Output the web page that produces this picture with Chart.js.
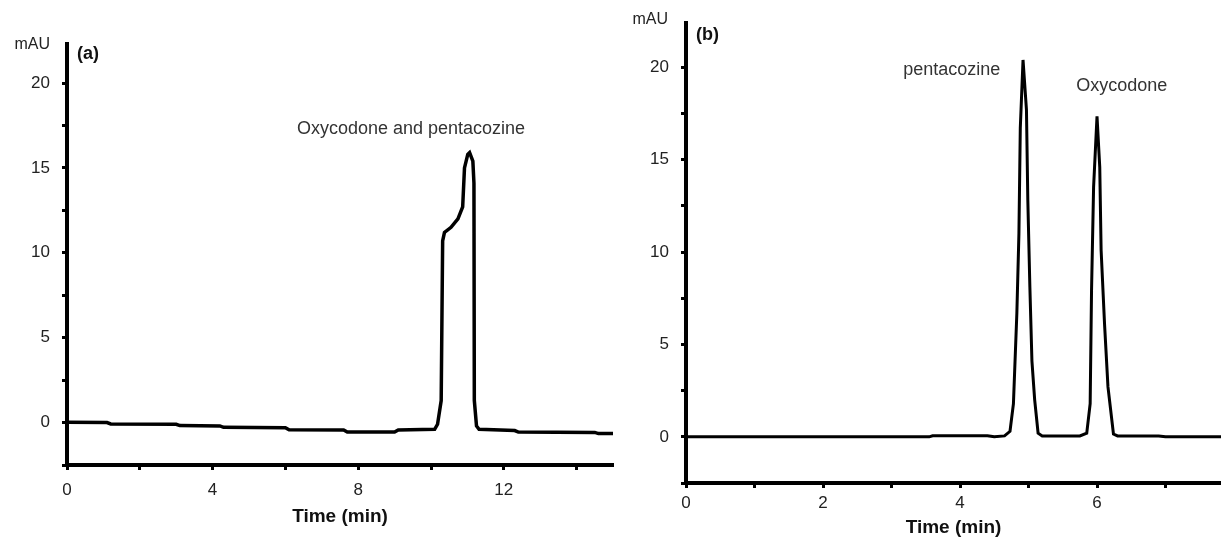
<!DOCTYPE html>
<html>
<head>
<meta charset="utf-8">
<script src="https://cdn.jsdelivr.net/npm/chart.js@4.4.1/dist/chart.umd.min.js"></script>
<style>
  html, body { margin: 0; padding: 0; background: #fff; }
  #wrap { position: relative; width: 1221px; height: 540px; overflow: hidden; }
  canvas { position: absolute; top: 0; }
  #chartA { left: 0; }
  #chartB { left: 620px; }
</style>
</head>
<body>
<div id="wrap">
  <canvas id="chartA" width="620" height="540"></canvas>
  <canvas id="chartB" width="601" height="540"></canvas>
</div>
<script>
// ── Data ─────────────────────────────────────────────────────────────────────
// (a) co-eluting peak
const timeA   = [0, 1.1, 1.2, 3.0, 3.1, 4.2, 4.3, 6.0, 6.1, 7.6, 7.7, 9.0, 9.1, 10.1, 10.18, 10.28, 10.32, 10.37, 10.55, 10.74, 10.87, 10.92, 11.01, 11.06, 11.15, 11.18, 11.19, 11.25, 11.32, 12.3, 12.4, 14.5, 14.6, 15];
const signalA = [0.02, 0, -0.08, -0.1, -0.18, -0.2, -0.28, -0.3, -0.42, -0.44, -0.56, -0.56, -0.44, -0.4, -0.1, 1.3, 10.7, 11.2, 11.5, 12.0, 12.7, 15.0, 15.8, 15.9, 15.4, 14.1, 1.3, -0.2, -0.4, -0.47, -0.56, -0.58, -0.65, -0.65];

// (b) resolved peaks
const timeB   = [0, 3.55, 3.6, 4.4, 4.5, 4.65, 4.73, 4.78, 4.83, 4.86, 4.88, 4.92, 4.97, 4.99, 5.02, 5.05, 5.09, 5.14, 5.2, 5.75, 5.85, 5.9, 5.92, 5.95, 6.0, 6.04, 6.06, 6.11, 6.16, 6.24, 6.3, 6.9, 7.0, 7.81];
const signalB = [0, 0, 0.06, 0.06, 0, 0.05, 0.3, 1.8, 6.7, 11.0, 16.7, 20.4, 17.7, 12.8, 8.1, 4.1, 2.0, 0.2, 0.05, 0.05, 0.2, 1.8, 7.9, 13.5, 17.35, 14.6, 10.1, 6.1, 2.7, 0.15, 0.05, 0.05, 0, 0];

// peak labels: text, time, mAU
const peakLabelsA = [['Oxycodone and pentacozine', 9.45, 17.3]];
const peakLabelsB = [['pentacozine', 3.88, 19.86], ['Oxycodone', 6.36, 18.99]];

const FONT = "'Liberation Sans', Arial, sans-serif";
const INK  = '#222';

// draws "mAU", panel letter and peak names
const textPlugin = {
    id: 'panelText',
    afterDraw(chart, args, opts) {
        const { ctx, chartArea: ca, scales: { x, y } } = chart;
        ctx.save();
        ctx.fillStyle = INK;
        ctx.textBaseline = 'middle';

        ctx.font = `16px ${FONT}`;
        ctx.textAlign = 'right';
        ctx.fillText('mAU', ca.left - opts.unitDx, ca.top + opts.unitDy);

        ctx.font = `bold 18px ${FONT}`;
        ctx.textAlign = 'left';
        ctx.fillStyle = '#111';
        ctx.fillText(opts.letter, ca.left + 10, ca.top + opts.letterDy);

        ctx.font = `18px ${FONT}`;
        ctx.textAlign = 'center';
        ctx.fillStyle = '#333';
        opts.peaks.forEach(([txt, t, v]) => {
            ctx.fillText(txt, x.getPixelForValue(t), y.getPixelForValue(v));
        });
        ctx.restore();
    }
};

function makeChart(id, cfg) {
    const points = cfg.time.map((t, i) => ({ x: t, y: cfg.signal[i] }));
    const axisGrid = { drawOnChartArea: false, drawTicks: true, tickLength: 5, tickWidth: 3, tickColor: '#000' };
    const axisBorder = { display: true, width: 4, color: '#000' };
    const tickFont = { family: FONT, size: 17 };

    return new Chart(document.getElementById(id), {
        type: 'scatter',
        data: {
            datasets: [{
                data: points,
                showLine: true,
                borderColor: '#000',
                borderWidth: cfg.lineWidth,
                pointRadius: 0,
                tension: 0,
                fill: false
            }]
        },
        options: {
            responsive: false,
            animation: false,
            events: [],
            layout: { padding: { top: cfg.top, right: cfg.right, left: 0, bottom: 0 } },
            plugins: {
                legend: { display: false },
                tooltip: { enabled: false },
                panelText: cfg.text
            },
            scales: {
                x: {
                    type: 'linear',
                    min: 0, max: cfg.xMax,
                    grid: axisGrid,
                    border: axisBorder,
                    ticks: {
                        stepSize: cfg.xStep, autoSkip: false, includeBounds: false, maxRotation: 0,
                        padding: cfg.xPad, color: INK, font: tickFont,
                        callback: v => (v % cfg.xLabelEvery === 0 ? v : '')
                    },
                    title: {
                        display: true, text: 'Time (min)', color: '#111',
                        font: { family: FONT, size: 19, weight: 'bold' },
                        padding: { top: 0, bottom: cfg.titlePad }
                    },
                    afterFit: s => { s.height = cfg.xHeight; }
                },
                y: {
                    min: -2.5, max: cfg.yMax,
                    grid: axisGrid,
                    border: axisBorder,
                    ticks: {
                        stepSize: 2.5, autoSkip: false, includeBounds: false,
                        padding: 12, color: INK, font: tickFont,
                        callback: v => (v >= 0 && v % 5 === 0 ? v : '')
                    },
                    afterFit: s => { s.width = cfg.yWidth; }
                }
            }
        },
        plugins: [textPlugin]
    });
}

makeChart('chartA', {
    time: timeA, signal: signalA, lineWidth: 3.5,
    xMax: 15, xStep: 2, xLabelEvery: 4, yMax: 22.3,
    top: 44, right: 7, yWidth: 67, xHeight: 75, xPad: 10, titlePad: 12,
    text: { letter: '(a)', unitDx: 17, unitDy: 1, letterDy: 10, peaks: peakLabelsA }
});

makeChart('chartB', {
    time: timeB, signal: signalB, lineWidth: 3,
    xMax: 7.81, xStep: 1, xLabelEvery: 2, yMax: 22.4,
    top: 23, right: 0, yWidth: 66, xHeight: 57, xPad: 5, titlePad: 1,
    text: { letter: '(b)', unitDx: 18, unitDy: -3, letterDy: 12, peaks: peakLabelsB }
});
</script>
</body>
</html>
